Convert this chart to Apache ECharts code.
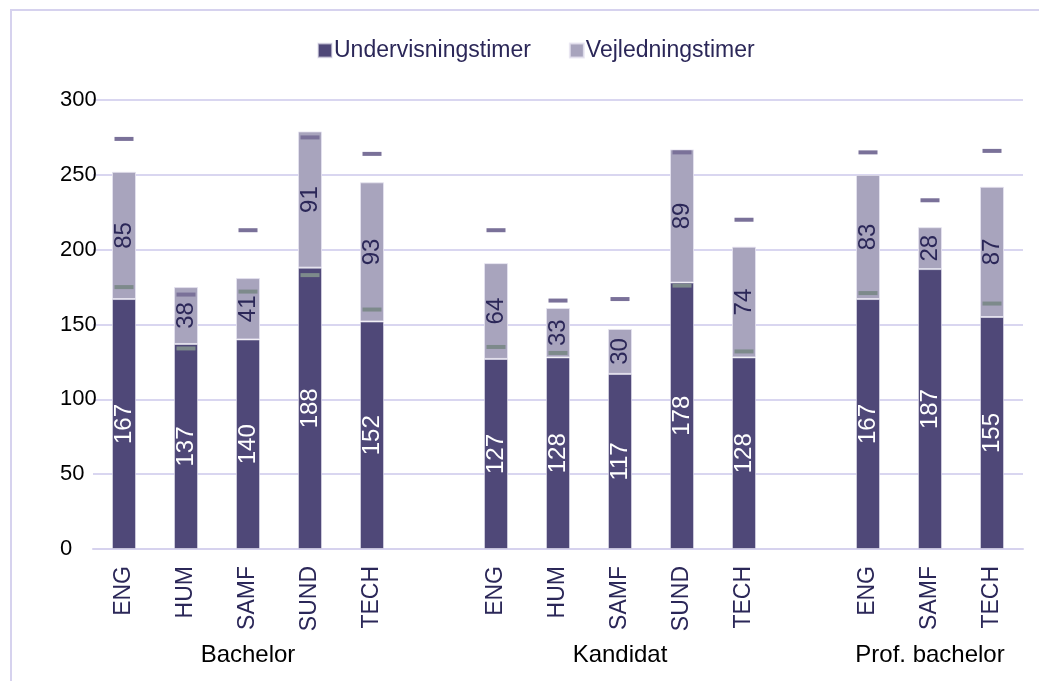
<!DOCTYPE html>
<html>
<head>
<meta charset="utf-8">
<script src="https://cdn.jsdelivr.net/npm/echarts@6/dist/echarts.min.js"></script>
<style>
  html, body { margin: 0; padding: 0; background: #fff; }
  #chart { width: 1039px; height: 681px; }
</style>
</head>
<body>
<div id="chart"></div>
<script>
// kategorier (tomme pladser adskiller grupperne)
var categories = ['ENG', 'HUM', 'SAMF', 'SUND', 'TECH', '', 'ENG', 'HUM', 'SAMF', 'SUND', 'TECH', '', 'ENG', 'SAMF', 'TECH'];
var groupLabels = ['', '', 'Bachelor', '', '', '', '', '', 'Kandidat', '', '', '', '', 'Prof. bachelor', ''];

var undervisning = [167, 137, 140, 188, 152, null, 127, 128, 117, 178, 128, null, 167, 187, 155];
var vejledning = [85, 38, 41, 91, 93, null, 64, 33, 30, 89, 74, null, 83, 28, 87];

// markeringer (sammenligningsniveauer)
var markTotal = [274, 170, 213, 275, 264, null, 213, 166, 167, 265, 220, null, 265, 233, 266];
var markUnderv = [175, 134, 172, 183, 160, null, 135, 131, null, 176, 132, null, 171, null, 164];

var yTicks = { min: 0, max: 300, interval: 50 };

var font = '"Liberation Sans", Arial, sans-serif';
var navy = '#2b2758';

var myChart = echarts.init(document.getElementById('chart'));

var option = {
    backgroundColor: '#fff',
    animation: false,
    textStyle: { fontFamily: font },
    graphic: [{
        type: 'rect',
        shape: { x: 11, y: 10, width: 1100, height: 800 },
        style: { fill: 'none', stroke: '#d6d2ee', lineWidth: 2 },
        silent: true
    }],
    legend: {
        data: ['Undervisningstimer', 'Vejledningstimer'],
        top: 34,
        left: 312,
        itemWidth: 14,
        itemHeight: 14,
        itemGap: 38,
        icon: 'rect',
        textStyle: { fontSize: 23, color: navy, fontFamily: font, padding: [0, 0, 0, -3] }
    },
    grid: { left: 93, right: 16, top: 100, bottom: 132 },
    xAxis: [{
        type: 'category',
        data: categories,
        axisLine: { lineStyle: { color: '#d6d2ee', width: 2 } },
        axisTick: { show: false },
        axisLabel: { rotate: 90, interval: 0, margin: 17, fontSize: 23, color: navy, fontFamily: font }
    }, {
        type: 'category',
        data: groupLabels,
        position: 'bottom',
        offset: 86,
        axisLine: { show: false },
        axisTick: { show: false },
        axisLabel: { interval: 0, margin: 8, fontSize: 24, color: '#000', fontFamily: font }
    }],
    yAxis: {
        type: 'value',
        min: yTicks.min,
        max: yTicks.max,
        interval: yTicks.interval,
        axisLine: { show: false },
        axisTick: { show: false },
        axisLabel: { fontSize: 22, color: '#000', margin: 33, align: 'left', fontFamily: font },
        splitLine: { lineStyle: { color: '#d9d6f0', width: 2 } }
    },
    series: [{
        name: 'Undervisningstimer',
        type: 'bar',
        stack: 'timer',
        barWidth: 24,
        data: undervisning,
        itemStyle: { color: '#4f4878', borderColor: 'rgba(230,228,240,0.6)', borderWidth: 1 },
        label: {
            show: true, position: 'inside', rotate: 90,
            fontSize: 24, color: '#fff', fontFamily: font
        }
    }, {
        name: 'Vejledningstimer',
        type: 'bar',
        stack: 'timer',
        barWidth: 24,
        data: vejledning,
        itemStyle: { color: '#a8a4bd', borderColor: 'rgba(230,228,240,0.8)', borderWidth: 1 },
        label: {
            show: true, position: 'inside', rotate: 90,
            fontSize: 24, color: navy, fontFamily: font
        }
    }, {
        name: 'Total (mark)',
        type: 'scatter',
        symbol: 'rect',
        symbolSize: [19, 4],
        data: markTotal,
        z: 5,
        itemStyle: { color: '#7a7199', opacity: 1 }
    }, {
        name: 'Undervisning (mark)',
        type: 'scatter',
        symbol: 'rect',
        symbolSize: [19, 4],
        data: markUnderv,
        z: 5,
        itemStyle: { color: '#7d8a8b', opacity: 1 }
    }]
};

myChart.setOption(option);
</script>
</body>
</html>
